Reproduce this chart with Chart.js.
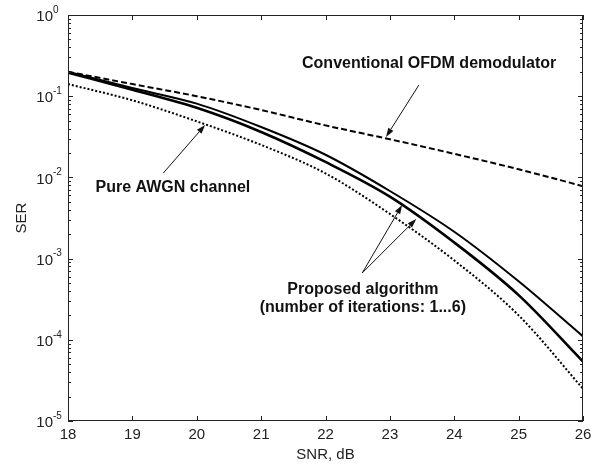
<!DOCTYPE html>
<html><head><meta charset="utf-8">
<script src="https://cdn.jsdelivr.net/npm/chart.js@4/dist/chart.umd.min.js"></script>
<style>html,body{margin:0;padding:0;background:#fff}#wrap{width:600px;height:466px}</style>
</head><body><div id="wrap"><canvas id="c" width="600" height="466"></canvas></div>
<script>
// ---- data ----
const snr = [18, 19, 20, 21, 22, 23, 24, 25, 26];
const serConventional = [0.200, 0.141, 0.100, 0.0676, 0.0437, 0.0295, 0.0195, 0.0126, 0.0078];
const serProposedFirst = [0.200, 0.126, 0.081, 0.0417, 0.0190, 0.0068, 0.00214, 0.000525, 0.00011];
const serProposedLast = [0.195, 0.120, 0.072, 0.0363, 0.0155, 0.0058, 0.00158, 0.000355, 0.000054];
const serAWGN = [0.141, 0.089, 0.049, 0.0251, 0.0112, 0.00355, 0.00095, 0.00020, 0.000025];
const xTickLabels = ['18', '19', '20', '21', '22', '23', '24', '25', '26'];
const yTickExponents = [0, -1, -2, -3, -4, -5];
const xTitle = 'SNR, dB';
const yTitle = 'SER';

// annotations (placed in data coordinates)
const notes = [
  {lines: ['Conventional OFDM demodulator'], at: [23.61, 0.249], tail: [23.45, 0.137], tips: [[22.94, 0.0315]]},
  {lines: ['Pure AWGN channel'], at: [19.63, 0.0074], tail: [19.48, 0.0113], tips: [[20.13, 0.0442]]},
  {lines: ['Proposed algorithm', '(number of iterations: 1...6)'], at: [22.58, 0.00041], tail: [22.57, 0.000665], tips: [[23.19, 0.00457], [23.41, 0.00308]]}
];

const pts = (ys) => snr.map((x, i) => ({x: x, y: ys[i]}));
const FONT = "'Liberation Sans', Arial, sans-serif";
const INK = '#222';

const decorations = {
  id: 'decorations',
  afterDraw(chart) {
    const ctx = chart.ctx;
    const xs = chart.scales.x, ys = chart.scales.y;
    const a = chart.chartArea;
    ctx.save();
    // frame
    ctx.strokeStyle = INK;
    ctx.lineWidth = 1;
    ctx.strokeRect(Math.round(a.left) + 0.5, Math.round(a.top) + 0.5, Math.round(a.right - a.left) - 1, Math.round(a.bottom - a.top) - 1);
    // x ticks (inside, top and bottom)
    ctx.beginPath();
    xTickLabels.forEach(t => {
      const px = Math.round(xs.getPixelForValue(+t)) + 0.5;
      ctx.moveTo(px, a.bottom); ctx.lineTo(px, a.bottom - 5);
      ctx.moveTo(px, a.top); ctx.lineTo(px, a.top + 5);
    });
    // y ticks: decades and minor
    yTickExponents.forEach(e => {
      for (let m = 1; m <= 9; m++) {
        if (e === 0 && m > 1) break;
        const v = m * Math.pow(10, e);
        const py = Math.round(ys.getPixelForValue(v)) + 0.5;
        const len = m === 1 ? 5 : 3;
        ctx.moveTo(a.left, py); ctx.lineTo(a.left + len, py);
        ctx.moveTo(a.right, py); ctx.lineTo(a.right - len, py);
      }
    });
    ctx.stroke();
    // y tick labels 10^e
    ctx.fillStyle = INK;
    yTickExponents.forEach(e => {
      const py = ys.getPixelForValue(Math.pow(10, e));
      ctx.font = '15px ' + FONT;
      ctx.textAlign = 'right';
      ctx.textBaseline = 'middle';
      ctx.fillText('10', a.left - 15, py + 2);
      ctx.font = '10px ' + FONT;
      ctx.textAlign = 'left';
      ctx.fillText(String(e), a.left - 15, py - 5);
    });
    // annotations
    ctx.fillStyle = '#111';
    ctx.strokeStyle = '#111';
    notes.forEach(n => {
      const cx = xs.getPixelForValue(n.at[0]);
      const cy = ys.getPixelForValue(n.at[1]);
      ctx.font = 'bold 16px ' + FONT;
      ctx.textAlign = 'center';
      ctx.textBaseline = 'middle';
      n.lines.forEach((l, i) => ctx.fillText(l, cx, cy + i * 18));
      const tx = xs.getPixelForValue(n.tail[0]);
      const ty = ys.getPixelForValue(n.tail[1]);
      n.tips.forEach(tp => {
        const hx = xs.getPixelForValue(tp[0]);
        const hy = ys.getPixelForValue(tp[1]);
        const ang = Math.atan2(hy - ty, hx - tx);
        const L = 9, W = 3;
        const bx = hx - L * Math.cos(ang), by = hy - L * Math.sin(ang);
        ctx.lineWidth = 1;
        ctx.beginPath(); ctx.moveTo(tx, ty); ctx.lineTo(bx, by); ctx.stroke();
        ctx.beginPath();
        ctx.moveTo(hx, hy);
        ctx.lineTo(bx + W * Math.sin(ang), by - W * Math.cos(ang));
        ctx.lineTo(bx - W * Math.sin(ang), by + W * Math.cos(ang));
        ctx.closePath(); ctx.fill();
      });
    });
    ctx.restore();
  }
};

new Chart(document.getElementById('c'), {
  type: 'line',
  data: {
    datasets: [
      {label: 'Conventional OFDM demodulator', data: pts(serConventional), borderColor: '#000', borderWidth: 2, borderDash: [6, 3], pointRadius: 0, cubicInterpolationMode: 'monotone'},
      {label: 'Proposed algorithm (1 iteration)', data: pts(serProposedFirst), borderColor: '#000', borderWidth: 2, pointRadius: 0, cubicInterpolationMode: 'monotone'},
      {label: 'Proposed algorithm (6 iterations)', data: pts(serProposedLast), borderColor: '#000', borderWidth: 2.6, pointRadius: 0, cubicInterpolationMode: 'monotone'},
      {label: 'Pure AWGN channel', data: pts(serAWGN), borderColor: '#000', borderWidth: 2, borderDash: [2, 2], pointRadius: 0, cubicInterpolationMode: 'monotone'}
    ]
  },
  options: {
    responsive: false,
    animation: false,
    devicePixelRatio: 1,
    layout: {padding: {top: 15, right: 17, left: 0, bottom: 0}},
    plugins: {legend: {display: false}, tooltip: {enabled: false}},
    scales: {
      x: {
        type: 'linear', min: 18, max: 26, position: 'bottom',
        ticks: {stepSize: 1, color: INK, font: {family: FONT, size: 15}, padding: 5, maxRotation: 0,
          callback: (v) => xTickLabels[snr.indexOf(v)] ?? ''},
        grid: {display: false, drawTicks: false},
        border: {display: false},
        title: {display: true, text: xTitle, color: INK, font: {family: FONT, size: 15}, padding: {top: 0, bottom: 2}},
        afterFit: (s) => { s.height = 45; }
      },
      y: {
        type: 'logarithmic', min: 1e-5, max: 1, position: 'left',
        ticks: {display: false},
        grid: {display: false, drawTicks: false},
        border: {display: false},
        title: {display: true, text: yTitle, color: INK, font: {family: FONT, size: 15}, padding: {top: 13, bottom: 0}},
        afterFit: (s) => { s.width = 68; }
      }
    }
  },
  plugins: [decorations]
});
</script>
</body></html>
